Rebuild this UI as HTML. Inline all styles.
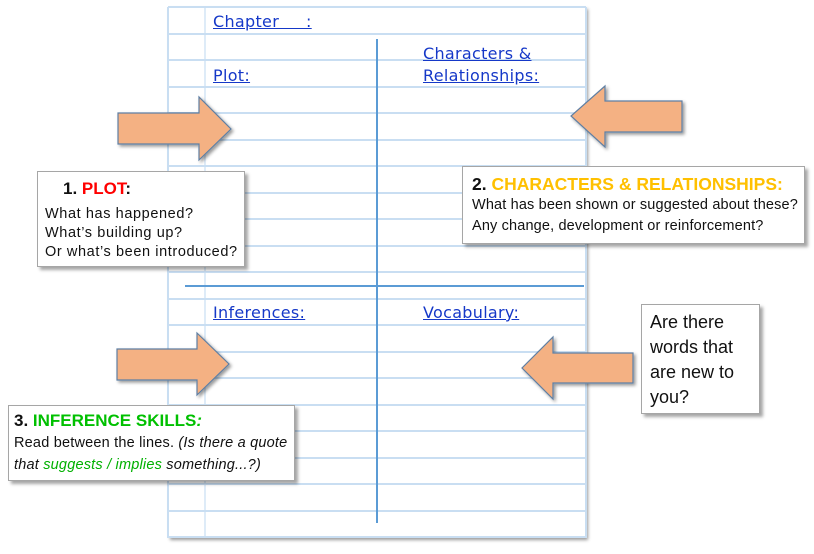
<!DOCTYPE html>
<html><head><meta charset="utf-8"><style>
body{margin:0;width:814px;height:554px;background:#fff;position:relative;overflow:hidden;font-family:"Liberation Sans",sans-serif}
.box{position:absolute;background:#fff;border:1px solid #a6a6a6;box-shadow:3px 3px 3px rgba(0,0,0,.35);color:#111;font-size:14.5px;line-height:19px;box-sizing:border-box;white-space:nowrap}
.h{font-size:17px;font-weight:bold;line-height:22px;letter-spacing:0}
.hw{position:absolute;color:#1538c8;text-decoration:underline;font-family:"DejaVu Sans",sans-serif;font-size:16px;line-height:20px;letter-spacing:.3px}
</style></head><body>
<svg width="814" height="554" style="position:absolute;left:0;top:0">
<defs><filter id="s" x="-20%" y="-20%" width="140%" height="140%"><feDropShadow dx="2" dy="2" stdDeviation="1.5" flood-opacity=".4"/></filter></defs>
<rect x="168" y="7" width="418" height="531" fill="#fff" filter="url(#s)"/>
<g stroke="#c9def2" stroke-width="2">
<line x1="168" y1="7" x2="586" y2="7"/><line x1="168" y1="34" x2="586" y2="34"/><line x1="168" y1="60" x2="586" y2="60"/><line x1="168" y1="87" x2="586" y2="87"/><line x1="168" y1="113" x2="586" y2="113"/><line x1="168" y1="140" x2="586" y2="140"/><line x1="168" y1="166" x2="586" y2="166"/><line x1="168" y1="193" x2="586" y2="193"/><line x1="168" y1="219" x2="586" y2="219"/><line x1="168" y1="246" x2="586" y2="246"/><line x1="168" y1="272" x2="586" y2="272"/><line x1="168" y1="299" x2="586" y2="299"/><line x1="168" y1="325" x2="586" y2="325"/><line x1="168" y1="352" x2="586" y2="352"/><line x1="168" y1="378" x2="586" y2="378"/><line x1="168" y1="405" x2="586" y2="405"/><line x1="168" y1="431" x2="586" y2="431"/><line x1="168" y1="458" x2="586" y2="458"/><line x1="168" y1="484" x2="586" y2="484"/><line x1="168" y1="511" x2="586" y2="511"/><line x1="168" y1="537" x2="586" y2="537"/>
<line x1="168" y1="7" x2="168" y2="538"/><line x1="586" y1="7" x2="586" y2="538"/>
<line x1="205" y1="7" x2="205" y2="538" stroke-width="1.2"/>
</g>
<line x1="377" y1="39" x2="377" y2="523" stroke="#5b9bd5" stroke-width="2"/>
<line x1="185" y1="286" x2="584" y2="286" stroke="#5b9bd5" stroke-width="2"/>
<g fill="#f4b183" stroke="#5f7fa3" stroke-width="1.2" filter="url(#s)">
<polygon points="118,113 199,113 199,97 231,129 199,160 199,144 118,144"/>
<polygon points="682,101 605,101 605,86 571,116 605,147 605,132 682,132"/>
<polygon points="117,349 197,349 197,333 229,364 197,395 197,380 117,380"/>
<polygon points="633,353 553,353 553,337 522,368 553,399 553,383 633,383"/>
</g>
</svg>
<div class="hw" style="left:213px;top:12px">Chapter&nbsp;&nbsp;&nbsp;&nbsp;&nbsp;:</div>
<div class="hw" style="left:213px;top:66px">Plot:</div>
<div class="hw" style="left:423px;top:44px">Characters &amp;</div>
<div class="hw" style="left:423px;top:66px">Relationships:</div>
<div class="hw" style="left:213px;top:303px">Inferences:</div>
<div class="hw" style="left:423px;top:303px">Vocabulary:</div>
<div class="box" style="left:37px;top:171px;width:208px;height:96px;padding:6px 0 0 7px;letter-spacing:.6px"><div class="h" style="padding-left:18px;margin-bottom:5px">1. <span style="color:#f00">PLOT</span>:</div>What has happened?<br>What’s building up?<br>Or what’s been introduced?</div>
<div class="box" style="left:462px;top:166px;width:343px;height:78px;padding:6px 0 0 9px;letter-spacing:.15px;line-height:21px"><div class="h" style="font-size:17.5px;margin-bottom:0">2. <span style="color:#ffc000">CHARACTERS &amp; RELATIONSHIPS:</span></div>What has been shown or suggested about these?<br>Any change, development or reinforcement?</div>
<div class="box" style="left:8px;top:405px;width:287px;height:76px;padding:4px 0 0 5px;letter-spacing:.2px;line-height:22px"><div class="h" style="margin-bottom:0">3. <span style="color:#00c000">INFERENCE SKILLS</span><i style="color:#00c000">:</i></div>Read between the lines. <i>(Is there a quote<br>that <span style="color:#00b000">suggests / implies</span> something...?)</i></div>
<div class="box" style="left:641px;top:304px;width:119px;height:110px;padding:5px 0 0 8px;font-size:18px;line-height:25px">Are there<br>words that<br>are new to<br>you?</div>
</body></html>
